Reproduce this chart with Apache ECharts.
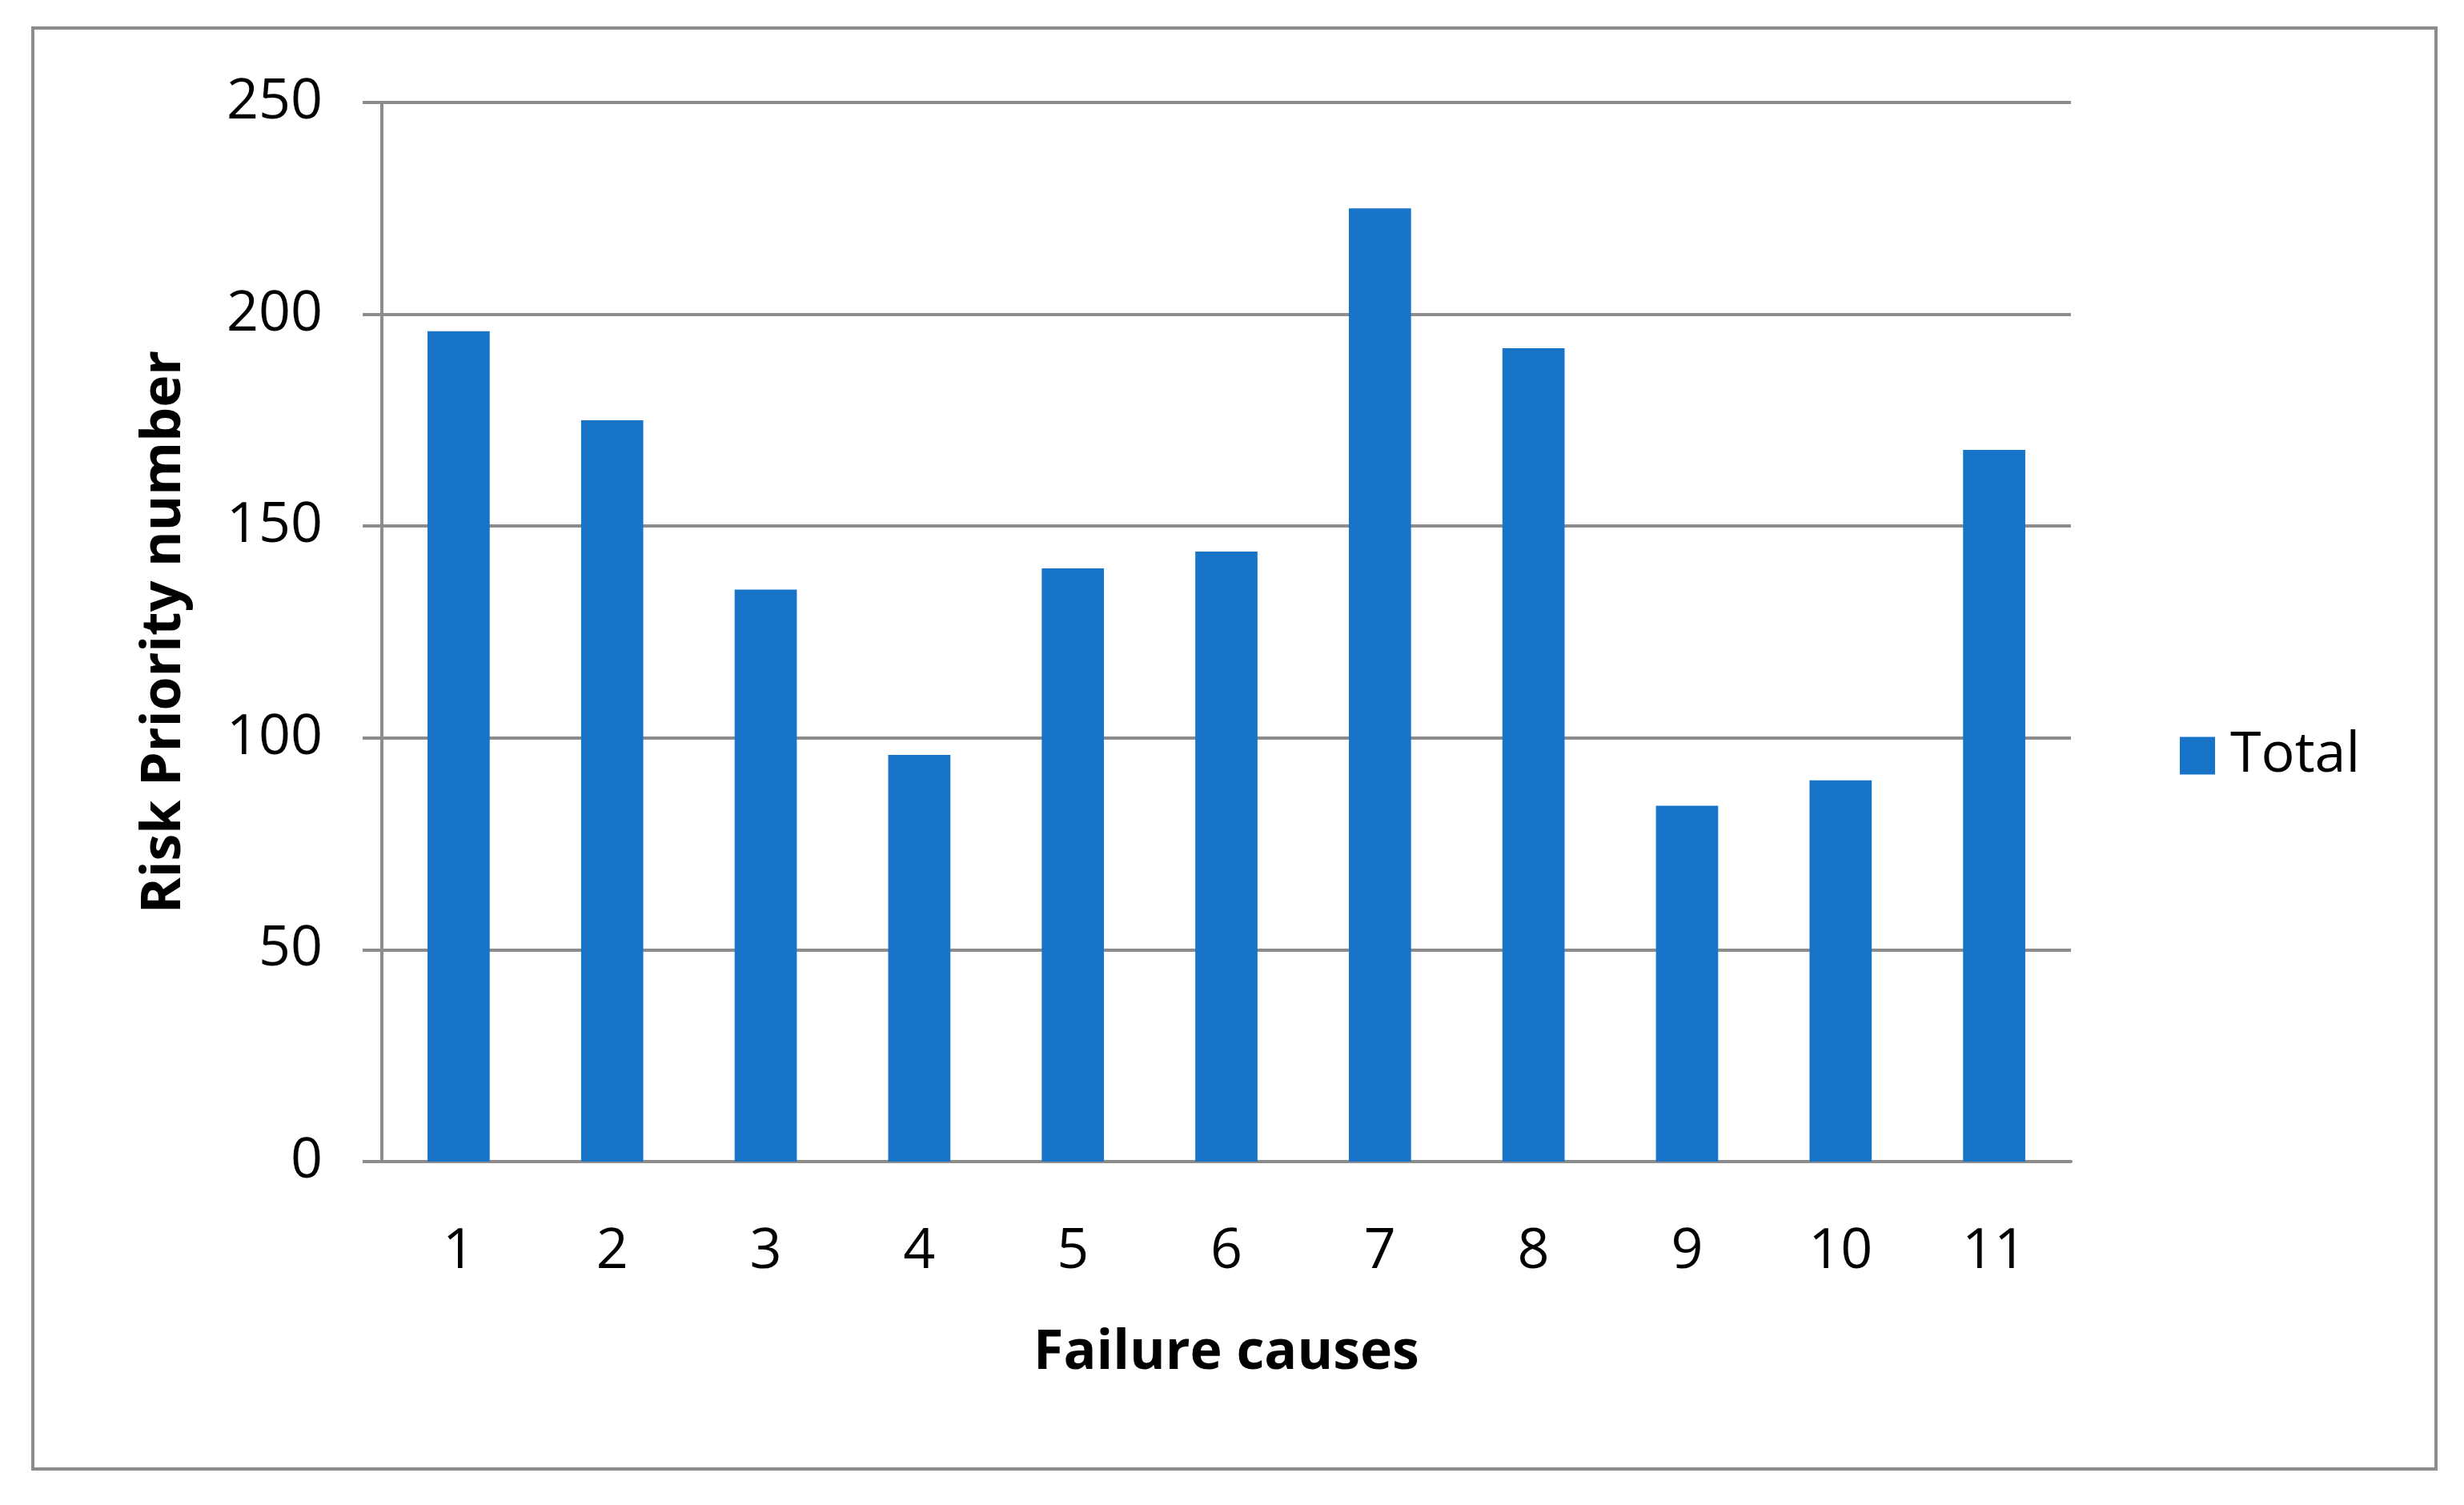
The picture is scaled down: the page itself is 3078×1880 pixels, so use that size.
<!DOCTYPE html>
<html>
<head>
<meta charset="utf-8">
<script src="https://cdn.jsdelivr.net/npm/echarts@6/dist/echarts.min.js"></script>
<style>
html,body{margin:0;padding:0;background:#fff;}
#c{width:3078px;height:1880px;}
</style>
</head>
<body>
<div id="c"></div>
<script>
const categories = ['1','2','3','4','5','6','7','8','9','10','11'];
const totalValues = [196,175,135,96,140,144,225,192,84,90,168];
const yTicks = {min:0, max:250, interval:50};
const seriesName = 'Total';
const xTitle = 'Failure causes';
const yTitle = 'Risk Priority number';

const gray = '#8c8c8c';
const blue = '#1874C8';
const font = '"Open Sans", "Noto Sans", sans-serif';

const chart = echarts.init(document.getElementById('c'), null, {renderer:'canvas'});
chart.setOption({
  animation:false,
  backgroundColor:'#ffffff',
  graphic:[{
    type:'rect', shape:{x:41,y:35,width:3002,height:1800},
    style:{fill:'none',stroke:gray,lineWidth:4}, silent:true
  }],
  grid:{left:477,right:491,top:128,bottom:429,containLabel:false},
  legend:{
    data:[seriesName], left:2718, top:904, orient:'vertical',
    itemWidth:44, itemHeight:47, icon:'rect',
    textStyle:{fontFamily:font,fontSize:70,color:'#000',padding:[0,0,0,14]}
  },
  xAxis:{
    type:'category', data:categories,
    name:xTitle, nameLocation:'middle', nameGap:206,
    nameTextStyle:{fontFamily:font,fontSize:68,fontWeight:'bold',color:'#000'},
    axisLine:{show:true,lineStyle:{color:gray,width:4}},
    axisTick:{show:false},
    axisLabel:{fontFamily:font,fontSize:70,color:'#000',margin:78},
    splitLine:{show:false}
  },
  yAxis:{
    type:'value', min:yTicks.min, max:yTicks.max, interval:yTicks.interval,
    name:yTitle, nameLocation:'middle', nameGap:237, nameRotate:90,
    nameTextStyle:{fontFamily:font,fontSize:68,fontWeight:'bold',color:'#000'},
    axisLine:{show:true,lineStyle:{color:gray,width:4}},
    axisTick:{show:true,length:24,lineStyle:{color:gray,width:4}},
    axisLabel:{fontFamily:font,fontSize:70,color:'#000',margin:74},
    splitLine:{show:true,lineStyle:{color:gray,width:4}}
  },
  series:[{
    name:seriesName, type:'bar', data:totalValues,
    barWidth:'40.5%',
    itemStyle:{color:blue}
  }]
});
</script>
</body>
</html>
